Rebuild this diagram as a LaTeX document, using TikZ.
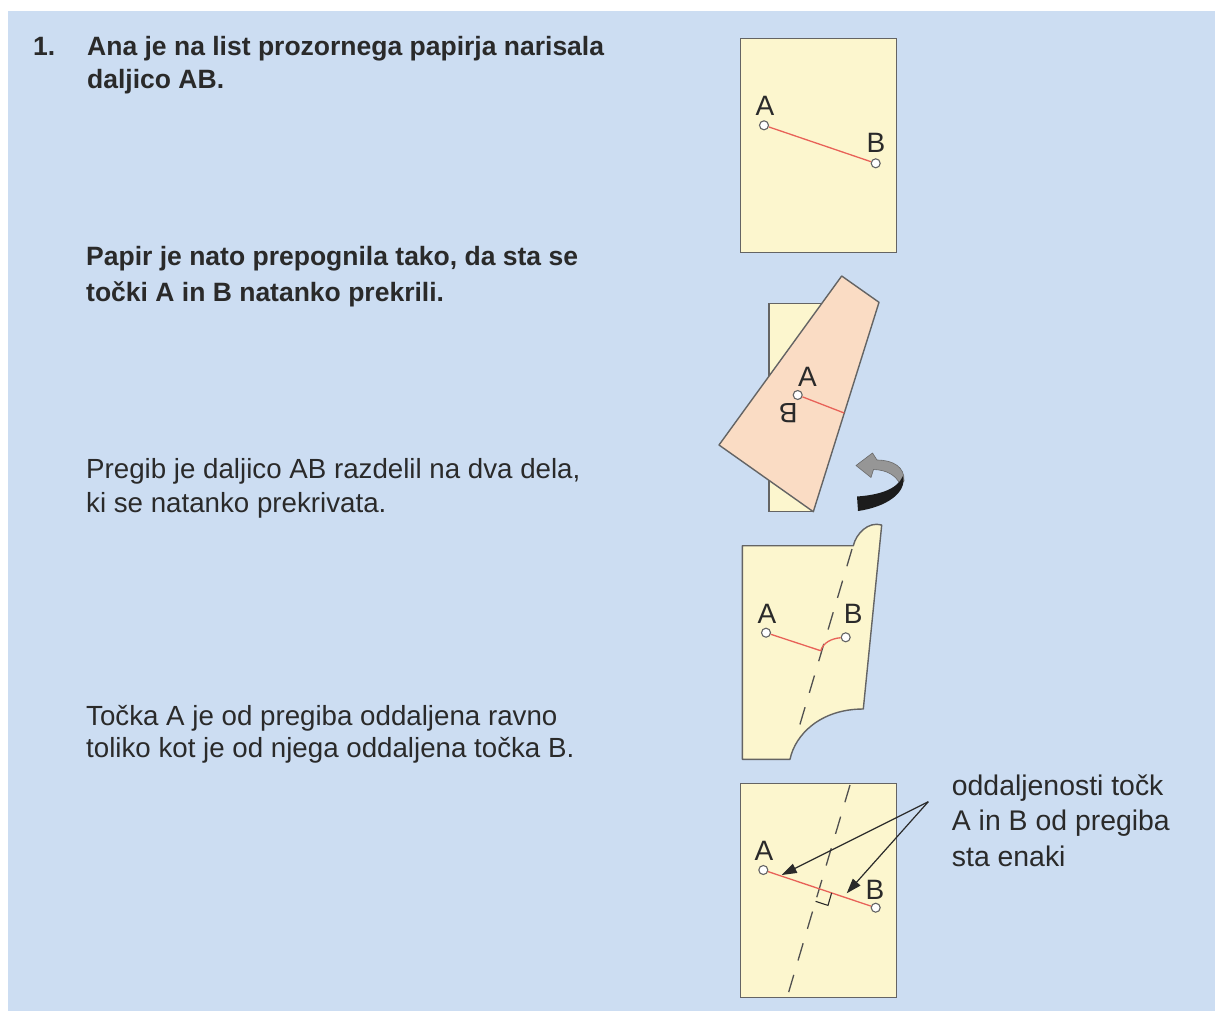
\documentclass[tikz,border=0pt]{standalone}
\usepackage{fontspec}
\setmainfont{Liberation Sans}
\usetikzlibrary{arrows.meta}

\definecolor{panelblue}{RGB}{204,221,242}
\definecolor{edgeblue}{RGB}{190,206,226}
\definecolor{paperfill}{RGB}{252,246,206}
\definecolor{flapfill}{RGB}{250,220,196}
\definecolor{edgegray}{RGB}{100,100,100}
\definecolor{segred}{RGB}{232,98,88}
\definecolor{inkgray}{RGB}{42,42,42}
\definecolor{ribbondark}{RGB}{28,28,28}
\definecolor{ribbonlight}{RGB}{150,150,150}

% background: faint darkening towards the left edge
\pgfdeclarehorizontalshading{panelshade}{100bp}{color(0bp)=(edgeblue); color(5bp)=(edgeblue!55!panelblue); color(15bp)=(panelblue); color(100bp)=(panelblue)}

\begin{document}
\begin{tikzpicture}[x=1pt,y=-1pt,
  boldline/.style={anchor=base west, inner sep=0pt, text=inkgray,
    font=\fontsize{26.5}{32}\selectfont\bfseries},
  plainline/.style={anchor=base west, inner sep=0pt, text=inkgray,
    font=\fontsize{27.7}{33}\selectfont},
  noteline/.style={anchor=base west, inner sep=0pt, text=inkgray,
    font=\fontsize{28.4}{34}\selectfont},
  lbl/.style={anchor=base, inner sep=0pt, text=inkgray,
    font=\fontsize{28}{32}\selectfont},
  sheet/.style={fill=paperfill, draw=edgegray, line width=1.4pt},
  edge/.style={draw=edgegray, line width=1.4pt},
  pt/.style={circle, draw=edgegray, fill=white, line width=1.1pt,
    minimum size=9pt, inner sep=0pt},
  segment/.style={draw=segred, line width=1.3pt},
  fold/.style={draw=edgegray!80!black, line width=1.3pt, dash pattern=on 18pt off 15pt},
  pointer/.style={draw=inkgray, line width=1.2pt,
    -{Triangle[length=15pt,width=10pt]}}]

\useasboundingbox (0,0) rectangle (1215,1010);
\fill[white] (0,0) rectangle (1215,1010);
\shade[shading=panelshade] (8,11) rectangle (1215,1010);

% ---- text column ----
\node[boldline] (num) at (33,55) {1.};
\node[boldline] (t1a) at (87,55) {Ana je na list prozornega papirja narisala};
\node[boldline] (t1b) at (87,88) {daljico AB.};
\node[boldline] (t2a) at (86,265) {Papir je nato prepognila tako, da sta se};
\node[boldline] (t2b) at (86,301) {točki A in B natanko prekrili.};
\node[plainline] (t3a) at (86,478) {Pregib je daljico AB razdelil na dva dela,};
\node[plainline] (t3b) at (86,512) {ki se natanko prekrivata.};
\node[plainline] (t4a) at (86,725) {Točka A je od pregiba oddaljena ravno};
\node[plainline] (t4b) at (86,757) {toliko kot je od njega oddaljena točka B.};

% ---- sheet 1: segment AB ----
\draw[sheet] (740.7,38.3) rectangle (896.7,252.3);
\node[pt] (p1a) at (764,125.3) {};
\node[pt] (p1b) at (875.7,163.3) {};
\draw[segment] (p1a) -- (p1b);
\node[lbl] (l1a) at (765,115) {A};
\node[lbl] (l1b) at (876,152.7) {B};

% ---- sheet 2: folded over ----
\fill[paperfill] (769,303.3) -- (825,303.3) -- (813.3,511.7) -- (769,511.7) -- cycle;
\draw[edge] (825,303.3) -- (769,303.3) -- (769,511.7) -- (813.3,511.7);
\filldraw[fill=flapfill, draw=edgegray, line width=1.4pt, line join=round]
  (841.7,276) -- (879,302.3) -- (813.3,511.7) -- (719,445) -- cycle;
\node[pt] (p2) at (797.7,395) {};
\coordinate (p2e) at (844.2,413);
\draw[segment] (p2) -- (p2e);
\node[lbl] (l2a) at (807.5,386.7) {A};
\node[lbl, anchor=center, rotate=180] (l2b) at (788.3,413.3) {B};

% ---- turning arrow ----
\filldraw[fill=ribbonlight, draw=ribbonlight!70!black, line width=0.6pt, line join=round]
  (904,481) .. controls (905,467) and (893,460) .. (877,460)
  -- (872.5,453) -- (856,465.5) -- (871,477.5) -- (873.5,469.5)
  .. controls (888,470) and (896,476) .. (900,484) -- cycle;
\fill[ribbondark]
  (857,496.5) .. controls (878,495) and (897,490) .. (903,476)
  .. controls (907,493) and (886,507) .. (858,511) -- cycle;

% ---- sheet 3: unfolded with crease ----
\draw[sheet, line join=round] (742.3,545.7) -- (853.3,545.7)
  .. controls (856,534) and (868,521) .. (881.7,525)
  -- (863.3,709)
  .. controls (820,709) and (795,735) .. (790,759.3)
  -- (742.3,759.3) -- cycle;
\draw[fold] (852,549) -- (796.5,736);
\node[pt] (p3a) at (766,632.7) {};
\node[pt] (p3b) at (845.7,637.3) {};
\coordinate (k3) at (820.7,650.7);
\draw[segment] (p3a) -- (k3) .. controls (823,643) and (831,638.5) .. (p3b);
\node[lbl] (l3a) at (767,623.3) {A};
\node[lbl] (l3b) at (853.3,623.3) {B};

% ---- sheet 4: equal distances ----
\draw[sheet] (740.7,783.3) rectangle (896.7,997.7);
\draw[fold] (850,785) -- (787.3,996.7);
\node[pt] (p4a) at (763.3,870) {};
\node[pt] (p4b) at (875.7,907.7) {};
\draw[segment] (p4a) -- (p4b);
\draw[draw=inkgray, line width=1.1pt] (815.6,901.3) -- (828,905.4) -- (831.6,892.9);
\node[lbl] (l4a) at (764,860.7) {A};
\node[lbl] (l4b) at (875,899.3) {B};

\coordinate (src) at (928.3,801.7);
\coordinate (tipa) at (781.7,875);
\coordinate (tipb) at (846.7,893.3);
\draw[pointer] (src) -- (tipa);
\draw[pointer] (src) -- (tipb);

\node[noteline] (n1) at (951.7,795) {oddaljenosti točk};
\node[noteline] (n2) at (951.7,830.5) {A in B od pregiba};
\node[noteline] (n3) at (951.7,866) {sta enaki};

\end{tikzpicture}
\end{document}
